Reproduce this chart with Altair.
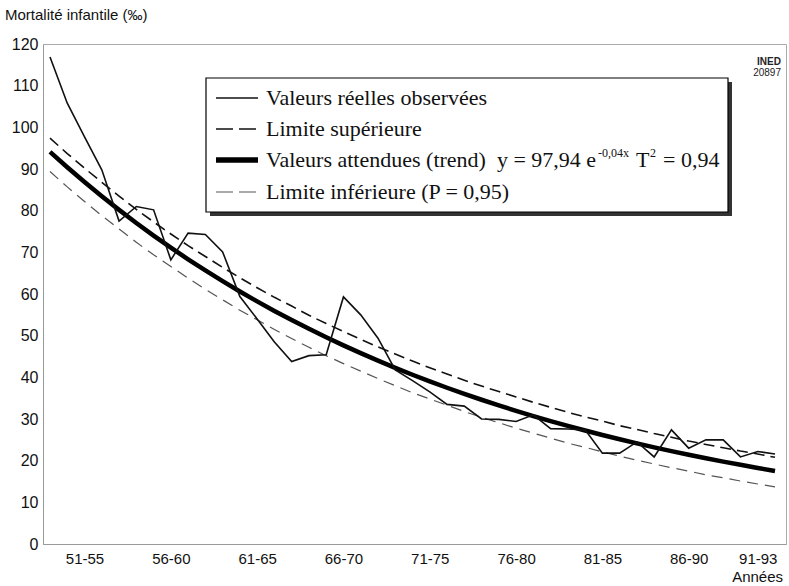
import altair as alt
import pandas as pd

years = list(range(1951, 1994))
observed = [116.9, 105.8, 97.7, 89.8, 77.5, 81.0, 80.2, 68.2, 74.6, 74.3,
            70.1, 59.4, 54.0, 48.5, 43.8, 45.2, 45.4, 59.3, 55.0, 49.4,
            41.8, 39.2, 36.5, 33.5, 33.1, 30.0, 29.9, 29.4, 31.0, 27.7,
            27.6, 27.4, 21.8, 21.8, 24.5, 20.9, 27.4, 23.0, 25.0, 25.0,
            20.9, 22.2, 21.6]
trend = [94.10, 90.41, 86.87, 83.46, 80.19, 77.04, 74.02, 71.12, 68.33, 65.65,
         63.08, 60.60, 58.23, 55.94, 53.75, 51.64, 49.62, 47.67, 45.80, 44.01,
         42.28, 40.62, 39.03, 37.50, 36.03, 34.62, 33.26, 31.96, 30.70, 29.50,
         28.34, 27.23, 26.16, 25.14, 24.15, 23.20, 22.29, 21.42, 20.58, 19.77,
         19.00, 18.25, 17.54]
upper = [97.4, 93.7, 90.2, 86.8, 83.5, 80.3, 77.3, 74.4, 71.6, 69.0,
         66.4, 63.9, 61.5, 59.2, 57.1, 54.9, 52.9, 51.0, 49.1, 47.3,
         45.6, 43.9, 42.3, 40.8, 39.3, 37.9, 36.6, 35.3, 34.0, 32.8,
         31.6, 30.5, 29.5, 28.4, 27.5, 26.5, 25.6, 24.7, 23.9, 23.1,
         22.3, 21.6, 20.8]
lower = [89.4, 85.7, 82.2, 78.8, 75.6, 72.4, 69.4, 66.6, 63.8, 61.1,
         58.6, 56.1, 53.8, 51.5, 49.3, 47.2, 45.2, 43.3, 41.5, 39.7,
         38.0, 36.3, 34.8, 33.3, 31.8, 30.4, 29.1, 27.8, 26.6, 25.4,
         24.2, 23.2, 22.1, 21.1, 20.1, 19.2, 18.3, 17.5, 16.6, 15.9,
         15.1, 14.4, 13.7]

tick_years = [1953, 1958, 1963, 1968, 1973, 1978, 1983, 1988, 1992]
tick_labels = ["51-55", "56-60", "61-65", "66-70", "71-75", "76-80", "81-85", "86-90", "91-93"]
y_ticks = list(range(0, 121, 10))

legend_labels = ["Valeurs réelles observées", "Limite supérieure",
                 "Valeurs attendues (trend)\u00a0 y = 97,94 e", "Limite inférieure (P = 0,95)"]
eq_sup1 = "-0,04x"
eq_T = "T"
eq_sup2 = "2"
eq_end = "= 0,94"
y_title = "Mortalité infantile (‰)"
x_title = "Années"
source_lines = ["INED", "20897"]

df = pd.DataFrame({"year": years, "observed": observed, "trend": trend,
                   "upper": upper, "lower": lower})

label_expr = " : ".join(f"datum.value == {y} ? '{l}'" for y, l in zip(tick_years, tick_labels)) + " : ''"

xenc = alt.X("year:Q",
             scale=alt.Scale(domain=[1950.594, 1993.637], nice=False, zero=False),
             axis=alt.Axis(values=tick_years, labelExpr=label_expr, title=None, ticks=False,
                           grid=False, labelFontSize=15, labelPadding=7, domainColor="#999",
                           labelFont="Liberation Sans", labelColor="#111", labelFlush=False))
yscale = alt.Scale(domain=[0, 120], nice=False)
yaxis = alt.Axis(values=y_ticks, title=None, ticks=False, grid=False, labelFontSize=16,
                 labelPadding=5, domainColor="#999", labelFont="Liberation Sans",
                 labelColor="#111")

base = alt.Chart(df)

lower_line = base.mark_line(color="#555", strokeWidth=1.2, strokeDash=[11, 7]).encode(
    x=xenc, y=alt.Y("lower:Q", scale=yscale, axis=yaxis))
upper_line = base.mark_line(color="#111", strokeWidth=1.6, strokeDash=[11, 6]).encode(
    x=xenc, y=alt.Y("upper:Q", scale=yscale, axis=yaxis))
trend_line = base.mark_line(color="#000", strokeWidth=4.5).encode(
    x=xenc, y=alt.Y("trend:Q", scale=yscale, axis=yaxis))
obs_line = base.mark_line(color="#111", strokeWidth=1.6).encode(
    x=xenc, y=alt.Y("observed:Q", scale=yscale, axis=yaxis))

one = alt.Chart(pd.DataFrame({"a": [0]}))

# legend box (page coords minus plot origin 43,44)
shadow = one.mark_rect(color="#333").encode(
    x=alt.value(167), x2=alt.value(689), y=alt.value(38), y2=alt.value(172))
box = one.mark_rect(fill="white", stroke="#000", strokeWidth=1.2).encode(
    x=alt.value(163), x2=alt.value(685), y=alt.value(34), y2=alt.value(168))

rows_y = [54, 85, 116, 148]
s1 = one.mark_rule(color="#111", strokeWidth=1.6).encode(
    x=alt.value(173), x2=alt.value(215), y=alt.value(rows_y[0]))
s2 = one.mark_rule(color="#111", strokeWidth=1.6, strokeDash=[17, 6]).encode(
    x=alt.value(173), x2=alt.value(215), y=alt.value(rows_y[1]))
s3 = one.mark_rule(color="#000", strokeWidth=5.5).encode(
    x=alt.value(173), x2=alt.value(215), y=alt.value(rows_y[2]))
s4 = one.mark_rule(color="#555", strokeWidth=1.2, strokeDash=[17, 6]).encode(
    x=alt.value(173), x2=alt.value(215), y=alt.value(rows_y[3]))

serif = "Liberation Serif"
texts = []
for lab, ry in zip(legend_labels, rows_y):
    texts.append(one.mark_text(text=lab, font=serif, fontSize=22, align="left",
                               baseline="middle", color="#111").encode(
        x=alt.value(223), y=alt.value(ry)))
texts.append(one.mark_text(text=eq_sup1, font=serif, fontSize=12, align="left",
                           baseline="middle", color="#111").encode(
    x=alt.value(555), y=alt.value(rows_y[2] - 7)))
texts.append(one.mark_text(text=eq_T, font=serif, fontSize=22, align="left",
                           baseline="middle", color="#111").encode(
    x=alt.value(593), y=alt.value(rows_y[2])))
texts.append(one.mark_text(text=eq_sup2, font=serif, fontSize=12, align="left",
                           baseline="middle", color="#111").encode(
    x=alt.value(607), y=alt.value(rows_y[2] - 7)))
texts.append(one.mark_text(text=eq_end, font=serif, fontSize=22, align="left",
                           baseline="middle", color="#111").encode(
    x=alt.value(620), y=alt.value(rows_y[2])))

ytitle = one.mark_text(text=y_title, font="Liberation Sans", fontSize=15, align="left",
                       baseline="middle", color="#111").encode(
    x=alt.value(-38), y=alt.value(-29))
xtitle = one.mark_text(text=x_title, font="Liberation Sans", fontSize=15, align="right",
                       baseline="middle", color="#111").encode(
    x=alt.value(740), y=alt.value(533))
src1 = one.mark_text(text=source_lines[0], font="Liberation Sans Narrow, Liberation Sans",
                     fontSize=10, fontWeight="bold", align="right",
                     baseline="middle", color="#222").encode(
    x=alt.value(738), y=alt.value(18))
src2 = one.mark_text(text=source_lines[1], font="Liberation Sans Narrow, Liberation Sans",
                     fontSize=10, align="right",
                     baseline="middle", color="#222").encode(
    x=alt.value(738), y=alt.value(29))

chart = alt.layer(lower_line, upper_line, trend_line, obs_line,
                  shadow, box, s1, s2, s3, s4, *texts, ytitle, xtitle, src1, src2).properties(
    width=743, height=500,
    autosize=alt.AutoSizeParams(type="none"),
    padding={"left": 43, "top": 44, "right": 3, "bottom": 42},
    background="white",
).configure_view(stroke="#aaa", strokeWidth=1)

chart.save("out.html", embed_options={"renderer": "svg", "actions": False})
